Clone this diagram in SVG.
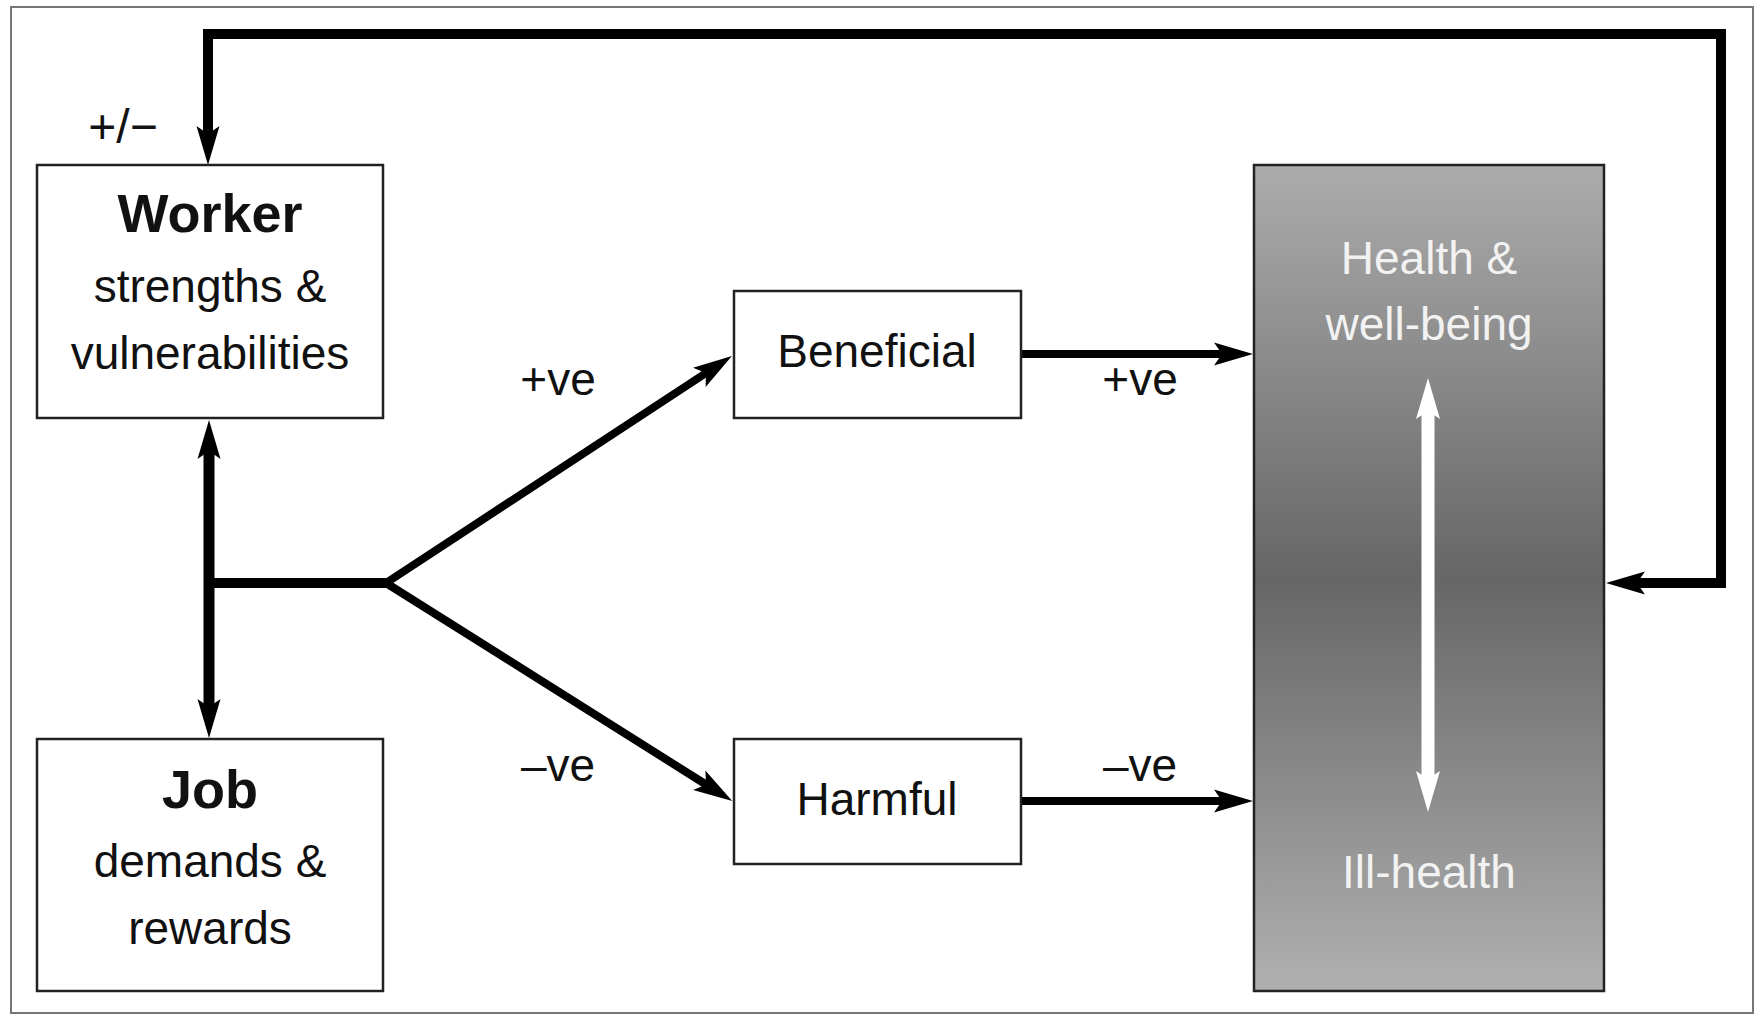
<svg xmlns="http://www.w3.org/2000/svg" width="1756" height="1016" viewBox="0 0 1756 1016">
<defs>
<style>
.box{fill:#fff;stroke:#222;stroke-width:2.5}
.t{font-family:"Liberation Sans",Arial,sans-serif;font-size:46px;fill:#111;text-anchor:middle}
.b{font-weight:bold;font-size:54px}
.w{fill:#f2f2f2}
.c{fill:none;stroke:#000;stroke-linejoin:miter}
</style>
<linearGradient id="g" x1="0" y1="0" x2="0" y2="1">
<stop offset="0" stop-color="#acacac"/>
<stop offset="0.5" stop-color="#666"/>
<stop offset="1" stop-color="#b0b0b0"/>
</linearGradient>
<marker id="ah" markerUnits="userSpaceOnUse" markerWidth="40" markerHeight="24" refX="8" refY="12" orient="auto-start-reverse">
<path d="M0,0.5 L39,12 L0,23.5 L8,12 z" fill="#000"/>
</marker>
<marker id="aw" markerUnits="userSpaceOnUse" markerWidth="42" markerHeight="26" refX="8" refY="13" orient="auto-start-reverse">
<path d="M0,1 L41,13 L0,25 L8,13 z" fill="#fff"/>
</marker>
</defs>
<rect x="0" y="0" width="1756" height="1016" fill="#fff"/>
<rect x="11" y="7" width="1742" height="1006" fill="none" stroke="#777" stroke-width="2"/>

<g id="connectors">
<path class="c" stroke-width="10" d="M1637,583 L1721,583 L1721,34 L208,34 L208,134" marker-start="url(#ah)" marker-end="url(#ah)"/>
<path class="c" stroke-width="11" d="M209,451 L209,707" marker-start="url(#ah)" marker-end="url(#ah)"/>
<path class="c" stroke-width="10" d="M204,583 L386,583"/>
<path class="c" stroke-width="8" d="M386,583 L706,373" marker-end="url(#ah)"/>
<path class="c" stroke-width="8" d="M386,583 L706,784.5" marker-end="url(#ah)"/>
<path class="c" stroke-width="8" d="M1022,354 L1222,354" marker-end="url(#ah)"/>
<path class="c" stroke-width="8" d="M1022,801 L1222,801" marker-end="url(#ah)"/>
<text class="t" x="123" y="143" style="font-size:48px">+/−</text>
<text class="t" x="558" y="395">+ve</text>
<text class="t" x="1140" y="395">+ve</text>
<text class="t" x="558" y="781">–ve</text>
<text class="t" x="1140" y="781">–ve</text>
</g>

<g id="worker">
<rect class="box" x="37" y="165" width="346" height="253"/>
<text class="t b" x="210" y="232">Worker</text>
<text class="t" x="210" y="302">strengths &amp;</text>
<text class="t" x="210" y="369">vulnerabilities</text>
</g>

<g id="job">
<rect class="box" x="37" y="739" width="346" height="252"/>
<text class="t b" x="210" y="808">Job</text>
<text class="t" x="210" y="877">demands &amp;</text>
<text class="t" x="210" y="944">rewards</text>
</g>

<g id="beneficial">
<rect class="box" x="734" y="291" width="287" height="127"/>
<text class="t" x="877" y="367">Beneficial</text>
</g>

<g id="harmful">
<rect class="box" x="734" y="739" width="287" height="125"/>
<text class="t" x="877" y="815">Harmful</text>
</g>

<g id="health">
<rect x="1254" y="165" width="350" height="826" fill="url(#g)" stroke="#222" stroke-width="2.5"/>
<text class="t w" x="1429" y="274">Health &amp;</text>
<text class="t w" x="1429" y="340">well-being</text>
<path d="M1428,411 L1428,779" stroke="#fff" stroke-width="13" fill="none" marker-start="url(#aw)" marker-end="url(#aw)"/>
<text class="t w" x="1429" y="888">Ill-health</text>
</g>
</svg>
